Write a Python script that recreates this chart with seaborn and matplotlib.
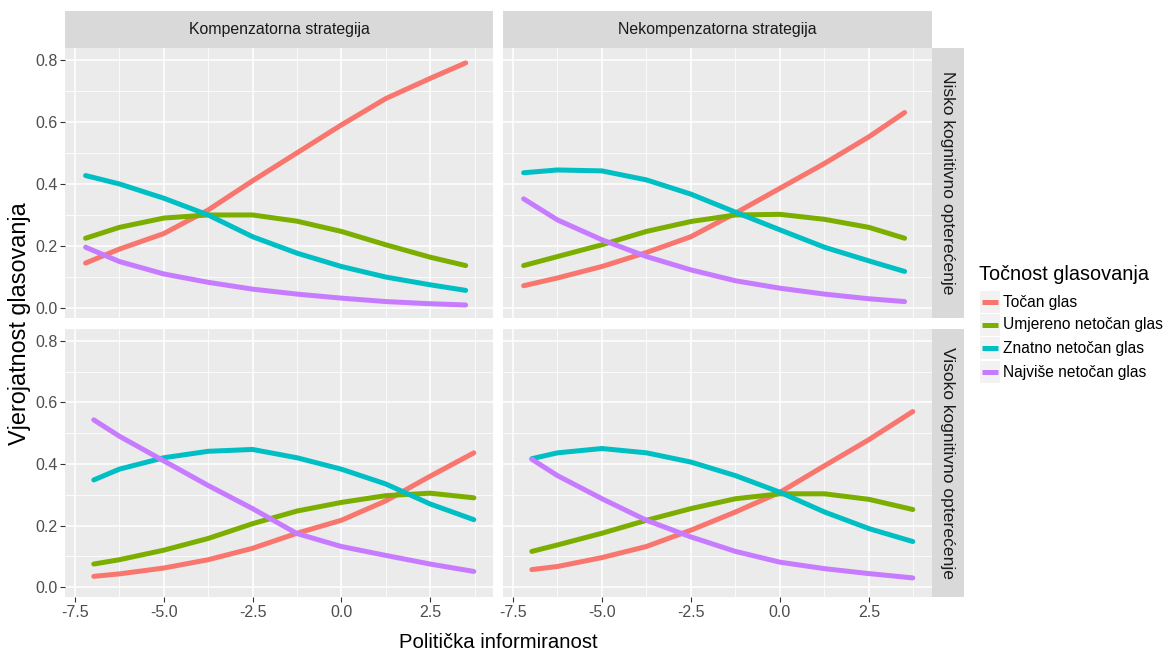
import numpy as np
import pandas as pd
import matplotlib
matplotlib.use("Agg")
import matplotlib.pyplot as plt
import seaborn as sns
from matplotlib.lines import Line2D
from matplotlib.patches import Rectangle
from matplotlib.ticker import MultipleLocator

# ---------------- data ----------------
categories = ["Točan glas", "Umjereno netočan glas", "Znatno netočan glas", "Najviše netočan glas"]
strategies = ["Kompenzatorna strategija", "Nekompenzatorna strategija"]
loads = ["Nisko kognitivno opterećenje", "Visoko kognitivno opterećenje"]

x_low = [-7.2, -6.25, -5.0, -3.75, -2.5, -1.25, 0.0, 1.25, 2.5, 3.5]
x_high = [-6.97, -6.25, -5.0, -3.75, -2.5, -1.25, 0.0, 1.25, 2.5, 3.73]

# Kompenzatorna / Nisko
komp_low_tocan = [0.145, 0.19, 0.24, 0.316, 0.41, 0.50, 0.59, 0.675, 0.74, 0.79]
komp_low_umj = [0.225, 0.26, 0.29, 0.30, 0.30, 0.28, 0.247, 0.204, 0.164, 0.137]
komp_low_zn = [0.427, 0.40, 0.354, 0.30, 0.23, 0.177, 0.134, 0.10, 0.075, 0.057]
komp_low_naj = [0.196, 0.15, 0.11, 0.083, 0.061, 0.045, 0.032, 0.021, 0.014, 0.01]

# Nekompenzatorna / Nisko
nek_low_tocan = [0.072, 0.097, 0.134, 0.179, 0.23, 0.306, 0.386, 0.466, 0.552, 0.63]
nek_low_umj = [0.137, 0.166, 0.204, 0.247, 0.279, 0.30, 0.302, 0.286, 0.26, 0.225]
nek_low_zn = [0.436, 0.445, 0.442, 0.413, 0.367, 0.309, 0.252, 0.196, 0.152, 0.118]
nek_low_naj = [0.352, 0.284, 0.22, 0.166, 0.123, 0.088, 0.064, 0.045, 0.03, 0.021]

# Kompenzatorna / Visoko
komp_high_tocan = [0.035, 0.043, 0.062, 0.089, 0.126, 0.175, 0.217, 0.28, 0.36, 0.436]
komp_high_umj = [0.075, 0.089, 0.12, 0.158, 0.206, 0.247, 0.275, 0.297, 0.305, 0.29]
komp_high_zn = [0.348, 0.383, 0.42, 0.441, 0.447, 0.42, 0.383, 0.335, 0.27, 0.219]
komp_high_naj = [0.543, 0.49, 0.41, 0.33, 0.255, 0.174, 0.132, 0.103, 0.075, 0.051]

# Nekompenzatorna / Visoko
nek_high_tocan = [0.057, 0.067, 0.096, 0.132, 0.185, 0.244, 0.308, 0.394, 0.479, 0.57]
nek_high_umj = [0.116, 0.137, 0.175, 0.217, 0.255, 0.287, 0.303, 0.303, 0.285, 0.252]
nek_high_zn = [0.417, 0.436, 0.45, 0.436, 0.406, 0.362, 0.308, 0.244, 0.19, 0.148]
nek_high_naj = [0.415, 0.362, 0.287, 0.217, 0.163, 0.116, 0.081, 0.06, 0.044, 0.03]

x_ticks = [-7.5, -5.0, -2.5, 0.0, 2.5]
y_ticks = [0.0, 0.2, 0.4, 0.6, 0.8]
colors = ["#F8766D", "#7CAE00", "#00BFC4", "#C77CFF"]

panels = {
    (0, 0): [komp_low_tocan, komp_low_umj, komp_low_zn, komp_low_naj],
    (0, 1): [nek_low_tocan, nek_low_umj, nek_low_zn, nek_low_naj],
    (1, 0): [komp_high_tocan, komp_high_umj, komp_high_zn, komp_high_naj],
    (1, 1): [nek_high_tocan, nek_high_umj, nek_high_zn, nek_high_naj],
}

rows = []
for (r, c), series in panels.items():
    xs = x_low if r == 0 else x_high
    for cat, vals in zip(categories, series):
        for xv, yv in zip(xs, vals):
            rows.append({"row": r, "col": c, "Točnost glasovanja": cat,
                         "x": xv, "y": yv})
df = pd.DataFrame(rows)

# ---------------- style ----------------
sns.set_theme(style="darkgrid", rc={
    "axes.facecolor": "#EBEBEB",
    "grid.color": "white",
})
plt.rcParams["font.family"] = ["Liberation Sans", "DejaVu Sans"]

W, H = 1172, 657
fig = plt.figure(figsize=(W / 100, H / 100), dpi=100)
palette = dict(zip(categories, colors))

def fx(px):
    return px / W

def fy(py):
    return 1 - py / H

col_x = [(65, 493), (503, 932)]
row_y = [(48, 318), (329, 597)]

for (r, c) in panels:
    x0, x1 = col_x[c]
    y0, y1 = row_y[r]
    ax = fig.add_axes([fx(x0), fy(y1), fx(x1 - x0), (y1 - y0) / H])
    sub = df[(df["row"] == r) & (df["col"] == c)]
    sns.lineplot(data=sub, x="x", y="y", hue="Točnost glasovanja",
                 palette=palette, hue_order=categories, ax=ax,
                 linewidth=3.6, legend=False, estimator=None, sort=True)
    ax.set_xlim(-7.78, 4.27)
    ax.set_ylim(-0.032, 0.838)
    ax.set_xticks(x_ticks)
    ax.set_yticks(y_ticks)
    ax.xaxis.set_minor_locator(MultipleLocator(1.25))
    ax.yaxis.set_minor_locator(MultipleLocator(0.1))
    ax.grid(which="major", color="white", linewidth=1.1)
    ax.grid(which="minor", color="white", linewidth=0.55)
    ax.set_xlabel("")
    ax.set_ylabel("")
    for s in ax.spines.values():
        s.set_visible(False)
    ax.tick_params(which="major", length=3.5, width=0.8, color="#333333",
                   labelsize=11.5, labelcolor="#4D4D4D", pad=2,
                   bottom=(r == 1), left=(c == 0),
                   labelbottom=(r == 1), labelleft=(c == 0))
    ax.tick_params(which="minor", length=0)
    if r == 1:
        ax.set_xticklabels(["-7.5", "-5.0", "-2.5", "0.0", "2.5"])
    if c == 0:
        ax.set_yticklabels(["0.0", "0.2", "0.4", "0.6", "0.8"])

# strips on top
for c, label in enumerate(strategies):
    x0, x1 = col_x[c]
    sax = fig.add_axes([fx(x0), fy(48), fx(x1 - x0), 37 / H])
    sax.set_facecolor("#D9D9D9")
    sax.set_xticks([]); sax.set_yticks([])
    sax.grid(False)
    for s in sax.spines.values():
        s.set_visible(False)
    sax.text(0.5, 0.5, label, ha="center", va="center", fontsize=11.4,
             color="#1A1A1A", transform=sax.transAxes)

# strips on the right
for r, label in enumerate(loads):
    y0, y1 = row_y[r]
    sax = fig.add_axes([fx(932), fy(y1), fx(32), (y1 - y0) / H])
    sax.set_facecolor("#D9D9D9")
    sax.set_xticks([]); sax.set_yticks([])
    sax.grid(False)
    for s in sax.spines.values():
        s.set_visible(False)
    sax.text(0.5, 0.5, label, ha="center", va="center", fontsize=12.6,
             color="#1A1A1A", rotation=-90, transform=sax.transAxes)

# axis titles
fig.text(fx(20), fy(324), "Vjerojatnost glasovanja", rotation=90,
         ha="center", va="center", fontsize=16.8, color="black")
fig.text(fx(498), fy(643), "Politička informiranost",
         ha="center", va="center", fontsize=14.6, color="black")

# legend (ggplot-style, drawn in figure pixels)
fig.text(fx(979), fy(274), "Točnost glasovanja", ha="left", va="center",
         fontsize=14.3, color="black")
key_y = [302, 325, 348, 372]
for yk, col, lab in zip(key_y, colors, categories):
    fig.patches.append(Rectangle((fx(980), fy(yk + 11)), fx(20), 22 / H,
                                 transform=fig.transFigure,
                                 facecolor="#F2F2F2", edgecolor="none"))
    fig.lines.append(Line2D([fx(982), fx(998)], [fy(yk), fy(yk)],
                            transform=fig.transFigure, color=col, lw=3.6,
                            solid_capstyle="butt"))
    fig.text(fx(1003), fy(yk), lab, ha="left", va="center",
             fontsize=11.2, color="black")

fig.savefig("out.png", dpi=100)
